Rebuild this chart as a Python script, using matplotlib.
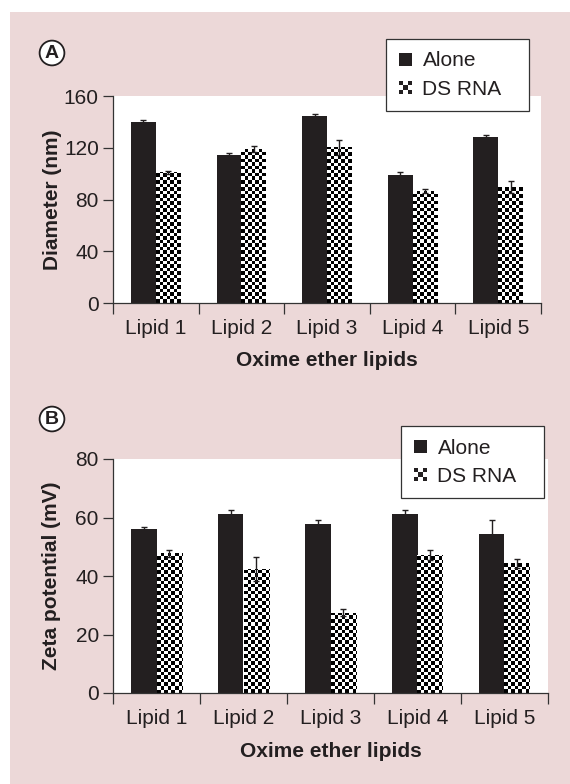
import numpy as np
import matplotlib
matplotlib.use("Agg")
import matplotlib.pyplot as plt
from matplotlib.patches import Rectangle, Patch
from matplotlib.legend_handler import HandlerBase

plt.rcParams['font.family'] = ['Liberation Sans', 'DejaVu Sans']

# ---- data ----
lipids = ["Lipid 1", "Lipid 2", "Lipid 3", "Lipid 4", "Lipid 5"]

diam_alone = [139.6, 114.4, 144.5, 99.0, 128.0]
diam_alone_err = [2.0, 1.6, 1.8, 2.5, 1.8]
diam_ds = [101.0, 119.3, 120.3, 86.6, 89.5]
diam_ds_err = [1.3, 2.3, 5.7, 1.5, 4.6]

zeta_alone = [56.0, 61.3, 57.8, 61.3, 54.4]
zeta_alone_err = [0.8, 1.3, 1.4, 1.4, 4.8]
zeta_ds = [47.8, 42.4, 27.5, 47.1, 44.3]
zeta_ds_err = [1.2, 4.1, 1.1, 1.7, 1.4]

W, H = 570, 784
DARK = "#231f20"
PINK = "#ecd8d8"
CELL = 3.5  # checker cell size in pixels


def fx(px):
    return px / W


def fy(py):
    return 1 - py / H


class CheckerHandler(HandlerBase):
    def create_artists(self, legend, orig_handle, xdescent, ydescent,
                       width, height, fontsize, trans):
        arts = []
        n = 3
        cw, ch = width / n, height / n
        for i in range(n):
            for j in range(n):
                if (i + j) % 2 == 0:
                    r = Rectangle((-xdescent + i * cw, -ydescent + j * ch), cw, ch,
                                  facecolor=DARK, edgecolor="none", transform=trans)
                    arts.append(r)
        return arts


def checker_fill(ax, bars):
    # fill each bar with a black/white checkerboard clipped to the bar
    p0 = ax.transData.transform((0, 0))
    p1 = ax.transData.transform((1, 1))
    ux = CELL / (p1[0] - p0[0])
    uy = CELL / (p1[1] - p0[1])
    for b in bars:
        x0, w, h = b.get_x(), b.get_width(), b.get_height()
        nx = int(np.ceil(w / ux)) + 1
        ny = int(np.ceil(h / uy)) + 1
        grid = np.indices((ny, nx)).sum(axis=0) % 2
        im = ax.imshow(grid, cmap="gray", vmin=0, vmax=1, origin="lower",
                       interpolation="nearest", aspect="auto",
                       extent=(x0, x0 + nx * ux, 0, ny * uy), zorder=1.5)
        im.set_clip_path(b)


def panel(rect, alone, alone_err, ds, ds_err, ymax, yticks, ylabel,
          leg_box, letter, letter_pos, ylabel_y, xlabel_top):
    l, t, r, btm = rect
    ax = fig.add_axes([fx(l), fy(btm), fx(r) - fx(l), fy(t) - fy(btm)])
    x = np.arange(len(lipids))
    bw = 0.29
    ax.bar(x - bw / 2, alone, bw, color=DARK, zorder=1)
    ds_bars = ax.bar(x + bw / 2, ds, bw, color="white", zorder=1)
    ax.errorbar(x - bw / 2, alone, yerr=alone_err, fmt="none", ecolor=DARK,
                elinewidth=1, capsize=2.5, capthick=1, zorder=3)
    ax.errorbar(x + bw / 2, ds, yerr=ds_err, fmt="none", ecolor=DARK,
                elinewidth=1, capsize=2.5, capthick=1, zorder=3)

    ax.set_xlim(-0.5, len(lipids) - 0.5)
    ax.set_ylim(0, ymax)
    checker_fill(ax, ds_bars)

    for s in ["top", "right"]:
        ax.spines[s].set_visible(False)
    for s in ["left", "bottom"]:
        ax.spines[s].set_color("#333333")
        ax.spines[s].set_linewidth(0.9)

    ax.set_yticks(yticks)
    ax.tick_params(axis="y", length=7.2, width=0.9, color="#333333",
                   labelsize=15, pad=3, labelcolor=DARK)
    ax.set_xticks(x)
    ax.set_xticklabels(lipids)
    ax.set_xticks(np.arange(len(lipids) + 1) - 0.5, minor=True)
    ax.tick_params(axis="x", which="major", length=0, labelsize=15, pad=11.5,
                   labelcolor=DARK)
    ax.tick_params(axis="x", which="minor", length=7.8, width=0.9, color="#333333")

    fig.text(fx(52), fy(ylabel_y), ylabel, rotation=90, ha="center", va="center",
             fontsize=15, fontweight="bold", color=DARK)
    fig.text(fx((l + r) / 2), fy(xlabel_top), "Oxime ether lipids", ha="center",
             va="top", fontsize=15, fontweight="bold", color=DARK)

    fig.text(fx(letter_pos[0]), fy(letter_pos[1]), letter, ha="center", va="center",
             fontsize=14, fontweight="bold", color=DARK,
             bbox=dict(boxstyle="circle,pad=0.2", fc="white", ec=DARK, lw=1.3))

    lx0, ly0, lx1, ly1 = leg_box
    h_alone = Patch(facecolor=DARK, edgecolor="none")
    h_ds = Patch(facecolor="white", edgecolor="none")
    leg = fig.legend([h_alone, h_ds], ["Alone", "DS RNA"], loc="upper left",
                     bbox_to_anchor=(fx(lx0), fy(ly1), fx(lx1) - fx(lx0), fy(ly0) - fy(ly1)),
                     mode="expand", borderaxespad=0, fontsize=15, fancybox=False,
                     framealpha=1, edgecolor="#333333", handlelength=0.67,
                     handleheight=0.6, handletextpad=0.48, borderpad=0.6,
                     labelspacing=0.45, handler_map={h_ds: CheckerHandler()})
    leg.get_frame().set_linewidth(0.9)
    for txt in leg.get_texts():
        txt.set_color(DARK)
    return ax


fig = plt.figure(figsize=(W / 100, H / 100), dpi=100, facecolor="white")
fig.add_artist(Rectangle((fx(10), 0), 1, fy(12), transform=fig.transFigure,
                         facecolor=PINK, edgecolor="none", zorder=-1))

panel((113, 96, 541, 303), diam_alone, diam_alone_err, diam_ds, diam_ds_err,
      160, [0, 40, 80, 120, 160], "Diameter (nm)",
      (386, 39, 529, 112), "A", (52, 53), 200, 351)
panel((113, 459, 548, 693), zeta_alone, zeta_alone_err, zeta_ds, zeta_ds_err,
      80, [0, 20, 40, 60, 80], "Zeta potential (mV)",
      (401, 426, 544, 499), "B", (52, 419), 576, 742)

fig.savefig("out.png", dpi=100, facecolor=fig.get_facecolor())
